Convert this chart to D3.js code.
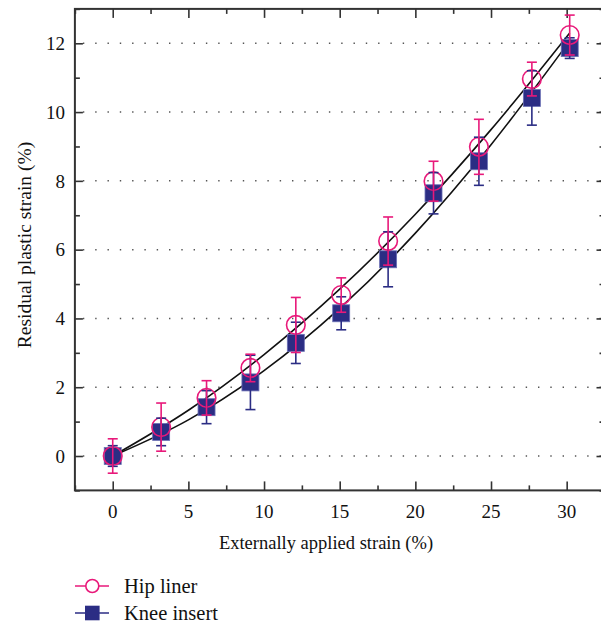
<!DOCTYPE html>
<html>
<head>
<meta charset="utf-8">
<script src="https://cdn.jsdelivr.net/npm/d3@7"></script>
<style>
  body { margin: 0; background: #fff; }
  svg text { font-family: "Liberation Serif", "DejaVu Serif", serif; fill: #111; }
</style>
</head>
<body>
<svg id="chart" width="601" height="624"></svg>
<script>
'use strict';

// applied strain (%) for every measurement
var strainX = [0, 3.2, 6.2, 9.1, 12.1, 15.1, 18.2, 21.2, 24.2, 27.7, 30.2];

// hip liner: mean residual strain and error (+/-)
var hipY   = [0, 0.84, 1.69, 2.56, 3.81, 4.68, 6.25, 7.99, 8.99, 10.96, 12.24];
var hipErr = [0.5, 0.7, 0.5, 0.4, 0.8, 0.5, 0.7, 0.58, 0.8, 0.49, 0.58];

// knee insert
var kneeY   = [0, 0.7, 1.42, 2.14, 3.29, 4.15, 5.72, 7.64, 8.57, 10.41, 11.86];
var kneeErr = [0.3, 0.4, 0.48, 0.79, 0.6, 0.48, 0.8, 0.6, 0.7, 0.79, 0.3];

// fitted curves
var fitX     = [0, 5, 10, 15, 20, 25, 30.2];
var hipFit   = [0, 1.33, 2.95, 4.85, 7.03, 9.49, 12.3];
var kneeFit  = [0, 1.05, 2.48, 4.29, 6.48, 9.05, 12.07];

var xTicks = [0, 5, 10, 15, 20, 25, 30];
var yTicks = [0, 2, 4, 6, 8, 10, 12];

(function() {

var pink = "#e8197a", navy = "#2b2d84", axisCol = "#333";

var svg = d3.select("#chart");

var x = d3.scaleLinear().domain([-2.5, 32.5]).range([74.9, 604.5]);
var y = d3.scaleLinear().domain([-1, 13]).range([490.4, 8.9]);

var pLeft = x(-2.5), pRight = x(32.5), pTop = y(13), pBottom = y(-1);

// dotted grid lines at the major y ticks
svg.append("g").selectAll("line")
  .data(yTicks).join("line")
    .attr("x1", pLeft + 8).attr("x2", pRight)
    .attr("y1", function(d){ return y(d); }).attr("y2", function(d){ return y(d); })
    .attr("stroke", "#555").attr("stroke-width", 1.5)
    .attr("stroke-dasharray", "1.4,10.9");

// axes with inward ticks on all four sides
var xMinor = d3.range(-2.5, 33, 2.5).filter(function(v){ return v % 5 !== 0; });
var yMinor = d3.range(-1, 14, 2);

function ticksX(g, dir) {
  g.append("g").call(d3.axisBottom(x).tickValues(xMinor).tickSize(dir * 5).tickFormat(""));
  g.append("g").call(d3.axisBottom(x).tickValues(xTicks).tickSize(dir * 9).tickFormat(""));
}
function ticksY(g, dir) {
  g.append("g").call(d3.axisLeft(y).tickValues(yMinor).tickSize(dir * 5).tickFormat(""));
  g.append("g").call(d3.axisLeft(y).tickValues(yTicks).tickSize(dir * 8).tickFormat(""));
}

ticksX(svg.append("g").attr("transform", "translate(0," + pBottom + ")"), -1);
ticksX(svg.append("g").attr("transform", "translate(0," + pTop + ")"), 1);
ticksY(svg.append("g").attr("transform", "translate(" + pLeft + ",0)"), -1);
ticksY(svg.append("g").attr("transform", "translate(" + pRight + ",0)"), 1);

svg.selectAll(".domain").remove();
svg.selectAll(".tick line").attr("stroke", axisCol).attr("stroke-width", 1.6);

svg.append("rect")
  .attr("x", pLeft).attr("y", pTop)
  .attr("width", pRight - pLeft).attr("height", pBottom - pTop)
  .attr("fill", "none").attr("stroke", axisCol).attr("stroke-width", 2);

// tick labels
svg.append("g").selectAll("text")
  .data(xTicks).join("text")
    .attr("x", function(d){ return x(d); }).attr("y", 518)
    .attr("text-anchor", "middle").attr("font-size", 19)
    .text(function(d){ return d; });

svg.append("g").selectAll("text")
  .data(yTicks).join("text")
    .attr("x", 65).attr("y", function(d){ return y(d); })
    .attr("dy", "0.35em")
    .attr("text-anchor", "end").attr("font-size", 19)
    .text(function(d){ return d; });

svg.append("text")
  .attr("x", 326).attr("y", 549)
  .attr("text-anchor", "middle").attr("font-size", 18.5)
  .text("Externally applied strain (%)");

svg.append("text")
  .attr("transform", "translate(31,245) rotate(-90)")
  .attr("text-anchor", "middle").attr("font-size", 19.5)
  .text("Residual plastic strain (%)");

// fit curves
var fitLine = d3.line()
  .x(function(d){ return x(d[0]); })
  .y(function(d){ return y(d[1]); })
  .curve(d3.curveMonotoneX);

[hipFit, kneeFit].forEach(function(vals) {
  svg.append("path")
    .datum(fitX.map(function(v, i){ return [v, vals[i]]; }))
    .attr("d", fitLine)
    .attr("fill", "none").attr("stroke", "#111").attr("stroke-width", 1.6);
});

// markers
var knee = strainX.map(function(v, i){ return {x: v, y: kneeY[i], e: kneeErr[i]}; });
var hip  = strainX.map(function(v, i){ return {x: v, y: hipY[i], e: hipErr[i]}; });

svg.append("g").selectAll("rect")
  .data(knee).join("rect")
    .attr("x", function(d){ return x(d.x) - 8.5; })
    .attr("y", function(d){ return y(d.y) - 8.5; })
    .attr("width", 17).attr("height", 17)
    .attr("fill", navy).attr("stroke", "#6b70b5").attr("stroke-width", 0.8);

svg.append("g").selectAll("circle")
  .data(hip).join("circle")
    .attr("cx", function(d){ return x(d.x); })
    .attr("cy", function(d){ return y(d.y); })
    .attr("r", 9.3)
    .attr("fill", "none").attr("stroke", pink).attr("stroke-width", 1.6);

// error bars
function errorBars(data, col) {
  var g = svg.append("g").attr("stroke", col).attr("stroke-width", 1.6);
  g.selectAll("line.v").data(data).join("line").attr("class", "v")
    .attr("x1", function(d){ return x(d.x); }).attr("x2", function(d){ return x(d.x); })
    .attr("y1", function(d){ return y(d.y - d.e); }).attr("y2", function(d){ return y(d.y + d.e); });
  [-1, 1].forEach(function(s) {
    g.selectAll("line.c" + (s + 1)).data(data).join("line").attr("class", "c" + (s + 1))
      .attr("x1", function(d){ return x(d.x) - 5; }).attr("x2", function(d){ return x(d.x) + 5; })
      .attr("y1", function(d){ return y(d.y + s * d.e); }).attr("y2", function(d){ return y(d.y + s * d.e); });
  });
}
errorBars(knee, navy);
errorBars(hip, pink);

// legend
var legend = [
  {name: "Hip liner", col: pink, shape: "circle", y: 586},
  {name: "Knee insert", col: navy, shape: "square", y: 613}
];
var lg = svg.append("g");
legend.forEach(function(d) {
  lg.append("line").attr("x1", 75).attr("x2", 109).attr("y1", d.y).attr("y2", d.y)
    .attr("stroke", d.col).attr("stroke-width", 1.6);
  if (d.shape === "circle") {
    lg.append("circle").attr("cx", 92.3).attr("cy", d.y).attr("r", 6.5)
      .attr("fill", "#fff").attr("stroke", d.col).attr("stroke-width", 1.6);
  } else {
    lg.append("rect").attr("x", 85).attr("y", d.y - 7.3).attr("width", 14.6).attr("height", 14.6)
      .attr("fill", d.col);
  }
  lg.append("text").attr("x", 124).attr("y", d.y + 6.5).attr("font-size", 20.5).text(d.name);
});

})();
</script>
</body>
</html>
